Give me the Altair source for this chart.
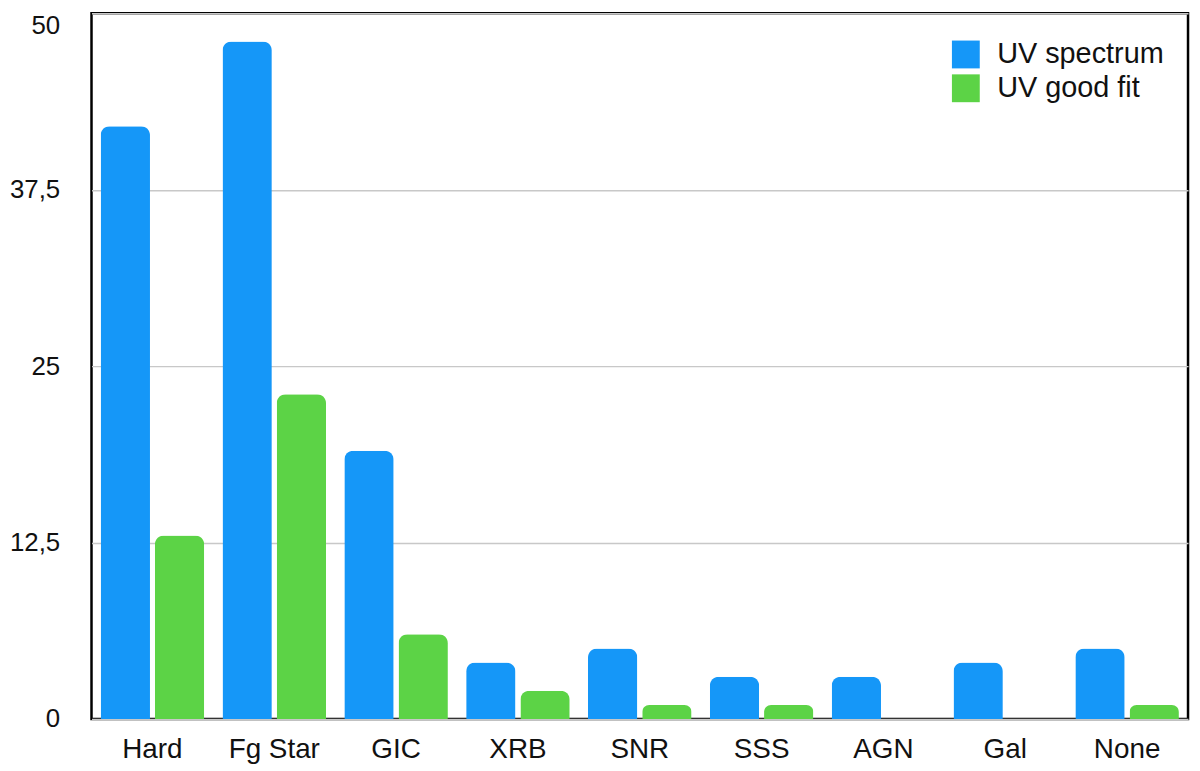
import altair as alt
import pandas as pd

categories = ["Hard", "Fg Star", "GIC", "XRB", "SNR", "SSS", "AGN", "Gal", "None"]
uv_spectrum = [42, 48, 19, 4, 5, 3, 3, 4, 5]
uv_good_fit = [13, 23, 6, 2, 1, 1, 0, 0, 1]
series_names = ["UV spectrum", "UV good fit"]
series_colors = ["#1597f8", "#5cd346"]
y_ticks = [0, 12.5, 25, 37.5, 50]

rows = []
for c, a, b in zip(categories, uv_spectrum, uv_good_fit):
    rows.append({"cat": c, "series": series_names[0], "value": a})
    rows.append({"cat": c, "series": series_names[1], "value": b})
df = pd.DataFrame(rows)

FONT = "Liberation Sans"

bars = alt.Chart(df).mark_bar(
    cornerRadiusTopLeft=9, cornerRadiusTopRight=9
).encode(
    x=alt.X("cat:N", sort=categories, title=None,
            scale=alt.Scale(paddingInner=0.15, paddingOuter=0.075),
            axis=alt.Axis(labelAngle=0, ticks=False, domain=False, grid=False,
                          labelPadding=17,
                          labelFontSize=28, labelFont=FONT, labelColor="#111111")),
    xOffset=alt.XOffset("series:N", sort=series_names,
                        scale=alt.Scale(paddingInner=0.09, paddingOuter=0)),
    y=alt.Y("value:Q", title=None,
            scale=alt.Scale(domain=[0, 50], nice=False),
            axis=alt.Axis(values=y_ticks, ticks=False, domain=False, grid=True,
                          labelPadding=32,
                          labelOffset={"condition": {"test": "datum.value == 50", "value": 12}, "value": 0},
                          labelFontSize=26, labelFont=FONT, labelColor="#111111",
                          gridColor="#c8c8c8", gridWidth=1.5,
                          labelExpr="replace(toString(datum.value), '.', ',')")),
    color=alt.Color("series:N", sort=series_names,
                    scale=alt.Scale(domain=series_names, range=series_colors),
                    legend=alt.Legend(title=None, orient="none", legendX=865, legendY=27,
                                      symbolType="square", symbolSize=784,
                                      symbolStrokeWidth=0, labelFontSize=29,
                                      labelFont=FONT, labelColor="#111111",
                                      labelLimit=400,
                                      rowPadding=4, labelOffset=17)),
)

chart = bars.properties(
    width=1103, height=710,
    autosize=alt.AutoSizeParams(type="none"),
    padding={"left": 84, "top": 3, "right": 4, "bottom": 48},
).configure_view(
    stroke="#000000", strokeWidth=2.5
)

chart.save("out.html", embed_options={"renderer": "svg", "actions": False})
